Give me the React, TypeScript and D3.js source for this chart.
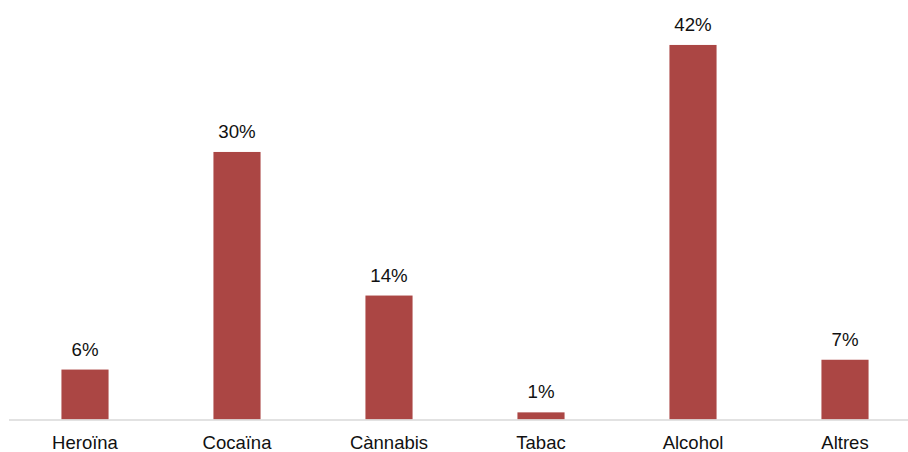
import React from "react";
import * as d3 from "d3";

const categories = ["Heroïna", "Cocaïna", "Cànnabis", "Tabac", "Alcohol", "Altres"];
const values = [5.6, 30.0, 13.9, 0.8, 42.0, 6.7];

const W = 908;
const H = 452;

export default function App() {
  const x = d3.scaleBand<string>().domain(categories).range([9, 921]).paddingInner(0.69).paddingOuter(0.345);
  const y = d3.scaleLinear().domain([0, 45]).range([419.5, 18.2]);
  const fmt = (v: number) => d3.format(".0f")(v) + "%";
  const font = "'Liberation Sans', Arial, Helvetica, sans-serif";
  return (
    <svg width={W} height={H} style={{ position: "absolute", left: 0, top: 0, background: "#fff" }}>
      <g>
        {categories.map((c, i) => (
          <rect key={c} x={x(c)} y={y(values[i])} width={x.bandwidth()} height={y(0) - y(values[i])} fill="#AB4644" />
        ))}
      </g>
      <line x1={9} x2={921} y1={y(0) + 0.5} y2={y(0) + 0.5} stroke="#d9d9d9" strokeWidth={1.5} />
      <g fontFamily={font} fontSize={18.7} fill="#111" textAnchor="middle">
        {categories.map((c, i) => (
          <text key={c} x={(x(c) as number) + x.bandwidth() / 2} y={y(values[i]) - 14}>
            {fmt(values[i])}
          </text>
        ))}
      </g>
      <g fontFamily={font} fontSize={18.5} fill="#111" textAnchor="middle">
        {categories.map((c) => (
          <text key={c} x={(x(c) as number) + x.bandwidth() / 2} y={448.5}>
            {c}
          </text>
        ))}
      </g>
    </svg>
  );
}
